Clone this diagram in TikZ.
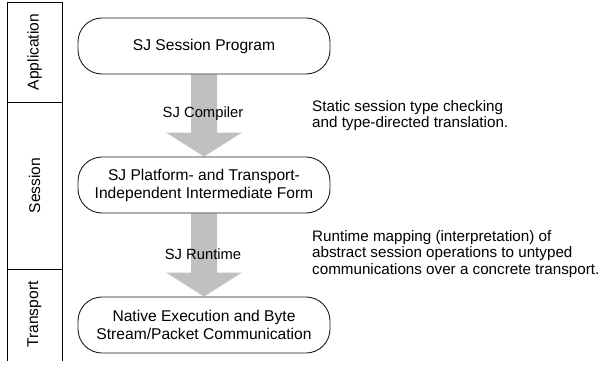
\documentclass[tikz,border=0pt]{standalone}
\usepackage{fontspec}
\setmainfont{Liberation Sans}
\usetikzlibrary{calc,backgrounds}

\definecolor{flowgray}{RGB}{192,192,192}
\definecolor{edgeink}{RGB}{30,30,30}

\tikzset{
  stage/.style={draw=edgeink, line width=0.9pt, fill=white, rounded corners=24pt,
    minimum width=252pt, minimum height=56pt, align=center, inner sep=0pt,
    font=\fontsize{15.6}{18}\selectfont},
  steplabel/.style={inner sep=0pt, font=\fontsize{14.8}{17}\selectfont},
  note/.style={anchor=north west, align=left, inner sep=0pt,
    font=\fontsize{15.2}{16.5}\selectfont},
  layerlabel/.style={rotate=90, inner sep=0pt, font=\fontsize{15.6}{18}\selectfont},
  layerline/.style={draw=black, line width=0.9pt},
  flowarrow/.style={fill=flowgray, draw=none}
}

\begin{document}
\begin{tikzpicture}[x=1pt, y=-1pt]
  \useasboundingbox (0,0) rectangle (605,367);

  % layer column on the left
  \draw[layerline] (7,361) -- (7,2) -- (62,2) -- (62,361);
  \draw[layerline] (7,102) -- (62,102);
  \draw[layerline] (7,269) -- (62,269);
  \node[layerlabel] (app) at (34.5,52) {Application};
  \node[layerlabel] (ses) at (34.5,185.5) {Session};
  \node[layerlabel] (trn) at (34.5,314.5) {Transport};

  % processing stages
  \node[stage] (prog) at (204,46) {SJ Session Program};
  \node[stage] (ir) at (204,185) {SJ Platform- and Transport-\\Independent Intermediate Form};
  \node[stage] (native) at (204,325) {Native Execution and Byte\\Stream/Packet Communication};

  % block arrows between the stages
  \begin{scope}[on background layer]
    \foreach \src/\dst in {prog/ir, ir/native}{
      \fill[flowarrow]
        ($(\src.south)+(-13,0)$) -- ($(\src.south)+(13,0)$)
        -- ($(\dst.north)+(13,-24)$) -- ($(\dst.north)+(38,-24)$)
        -- (\dst.north)
        -- ($(\dst.north)+(-38,-24)$) -- ($(\dst.north)+(-13,-24)$) -- cycle;
    }
  \end{scope}

  \node[steplabel] (comp) at (203,114) {SJ Compiler};
  \node[steplabel] (rt) at (203,254) {SJ Runtime};

  % explanatory notes
  \node[note] (compnote) at (312,100) {Static session type checking\\and type-directed translation.};
  \node[note] (rtnote) at (312,230) {Runtime mapping (interpretation) of\\abstract session operations to untyped\\communications over a concrete transport.};
\end{tikzpicture}
\end{document}
